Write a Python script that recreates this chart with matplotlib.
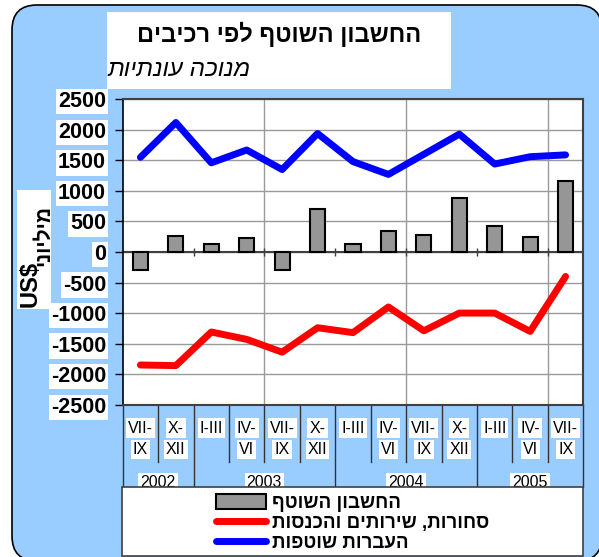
import numpy as np
import matplotlib
matplotlib.use("Agg")
import matplotlib.pyplot as plt
import matplotlib.transforms as mtransforms
from matplotlib.patches import FancyBboxPatch, Rectangle, Patch
from matplotlib.lines import Line2D

plt.rcParams['font.family'] = ['Liberation Sans', 'DejaVu Sans']
plt.rcParams['axes.unicode_minus'] = False

# data (US$ million)
quarters = ["VII-\nIX", "X-\nXII", "I-III", "IV-\nVI", "VII-\nIX", "X-\nXII",
            "I-III", "IV-\nVI", "VII-\nIX", "X-\nXII", "I-III", "IV-\nVI", "VII-\nIX"]
years = ["2002", "2003", "2004", "2005"]
year_sizes = [2, 4, 4, 3]

current_account = [-300, 260, 130, 230, -300, 700, 130, 350, 280, 880, 420, 250, 1170]
goods_services = [-1850, -1860, -1310, -1430, -1640, -1240, -1320, -900, -1290,
                  -1000, -1000, -1300, -400]
transfers = [1550, 2120, 1460, 1670, 1350, 1940, 1480, 1270, 1600, 1930, 1440, 1560, 1590]

title = "החשבון השוטף לפי רכיבים"
subtitle = "מנוכה עונתיות"
ylabel_he = "מיליוני"
ylabel_cur = "US$"
series_names = ["החשבון השוטף", "סחורות, שירותים והכנסות", "העברות שוטפות"]


def rtl( s ) :
	# matplotlib lays text out left to right, so flip the hebrew
	return s[::-1]


W, H = 599, 557
fig = plt.figure( figsize=(W/100, H/100), dpi=100 )
fig.patch.set_facecolor( 'white' )

def fx( x ) :
	return x / W

def fy( y ) :
	return 1 - y / H


# rounded light blue panel behind everything
panel = FancyBboxPatch( (0.12, -0.04), 5.90, 5.56, boxstyle="round,pad=0,rounding_size=0.25",
	transform=fig.dpi_scale_trans, facecolor='#99CCFF', edgecolor='black', linewidth=1.2, zorder=-3 )
fig.add_artist( panel )

# title box
fig.add_artist( Rectangle( (fx(107), fy(89)), fx(451) - fx(107), (89 - 12) / H,
	transform=fig.transFigure, facecolor='white', edgecolor='none', zorder=-2 ) )
fig.text( fx(279), fy(34), rtl( title ), ha='center', va='center', fontsize=17, fontweight='bold' )
fig.text( fx(107), fy(70), rtl( subtitle ), ha='left', va='center', fontsize=17.5, fontstyle='italic' )

# y label box
fig.add_artist( Rectangle( (fx(17), fy(309)), fx(51) - fx(17), (309 - 190) / H,
	transform=fig.transFigure, facecolor='white', edgecolor='none', zorder=1 ) )
fig.text( fx(30), fy(284), ylabel_cur, rotation=90, ha='center', va='center',
	fontsize=17, fontweight='bold', zorder=2 )
fig.text( fx(43), fy(236), rtl( ylabel_he ), rotation=90, ha='center', va='center',
	fontsize=15, fontweight='bold', zorder=2 )

ax = fig.add_axes( [fx(122.7), fy(404.7), (583.3 - 122.7) / W, (404.7 - 99.3) / H] )
ax.set_facecolor( 'white' )
x = np.arange( len( quarters ) )

ax.bar( x, current_account, width=0.43, color='#969696', edgecolor='black', linewidth=1.5, zorder=3 )
ax.plot( x, goods_services, color='#FF0000', lw=5, solid_capstyle='round', solid_joinstyle='round', zorder=4 )
ax.plot( x, transfers, color='#0000FF', lw=5, solid_capstyle='round', solid_joinstyle='round', zorder=4 )

ax.set_xlim( -0.5, len( quarters ) - 0.5 )
ax.set_ylim( -2500, 2500 )
ax.set_yticks( np.arange( -2500, 2501, 500 ) )
ax.tick_params( axis='y', labelsize=15.5, length=6, width=1, pad=6, color='black' )
for lbl in ax.get_yticklabels() :
	lbl.set_fontweight( 'bold' )
	lbl.set_bbox( dict( facecolor='white', edgecolor='none', pad=1.5 ) )
ax.set_xticks( [] )

ax.yaxis.grid( True, color='#999999', lw=1 )
ax.set_axisbelow( True )
for b in [3.5, 7.5, 11.5] :
	ax.axvline( b, color='#999999', lw=1, zorder=1 )
ax.axhline( 0, color='#404040', lw=1.5, zorder=2 )
ax.vlines( np.arange( 1.5, 12, 2 ), -70, 70, color='#404040', lw=1, zorder=2 )

for side in ['top', 'right', 'bottom'] :
	ax.spines[side].set_color( '#404040' )
	ax.spines[side].set_linewidth( 1.5 )
ax.spines['left'].set_color( 'black' )
ax.spines['left'].set_linewidth( 1.2 )

# category table under the plot
trans = mtransforms.blended_transform_factory( ax.transData, ax.transAxes )
for i, q in enumerate( quarters ) :
	parts = q.split( "\n" )
	for j, part in enumerate( parts ) :
		ax.text( i, [-0.0763, -0.148][j], part, transform=trans, ha='center', va='center',
			fontsize=11.5, clip_on=False, bbox=dict( facecolor='white', edgecolor='none', pad=1.5 ) )

year_edges = np.cumsum( [0] + year_sizes )
for b in range( len( quarters ) + 1 ) :
	bottom = -0.27 if b in year_edges else -0.188
	ax.add_line( Line2D( [b - 0.5, b - 0.5], [0, bottom], transform=trans, color='#333333',
		lw=1, clip_on=False ) )

for k, yr in enumerate( years ) :
	cx = ( year_edges[k] + year_edges[k + 1] - 1 ) / 2
	ax.text( cx, -0.255, yr, transform=trans, ha='center', va='center', fontsize=11.5,
		clip_on=False, bbox=dict( facecolor='white', edgecolor='none', pad=1.5 ) )

# legend box
fig.add_artist( Rectangle( (fx(122), fy(556)), fx(583) - fx(122), (556 - 487) / H,
	transform=fig.transFigure, facecolor='white', edgecolor='#404040', lw=1.2, zorder=5 ) )
handles = [
	Patch( facecolor='#969696', edgecolor='black', linewidth=1.5 ),
	Line2D( [], [], color='#FF0000', lw=5, solid_capstyle='round' ),
	Line2D( [], [], color='#0000FF', lw=5, solid_capstyle='round' ),
]
leg = fig.legend( handles, [rtl( s ) for s in series_names], loc='center',
	bbox_to_anchor=(fx(352.5), fy(523)), frameon=False,
	prop=dict( weight='bold', size=13.5 ), handlelength=2.7, handleheight=0.8,
	handletextpad=0.3, labelspacing=0.12, borderpad=0 )
leg.set_zorder( 6 )

fig.savefig( "out.png", dpi=100 )
